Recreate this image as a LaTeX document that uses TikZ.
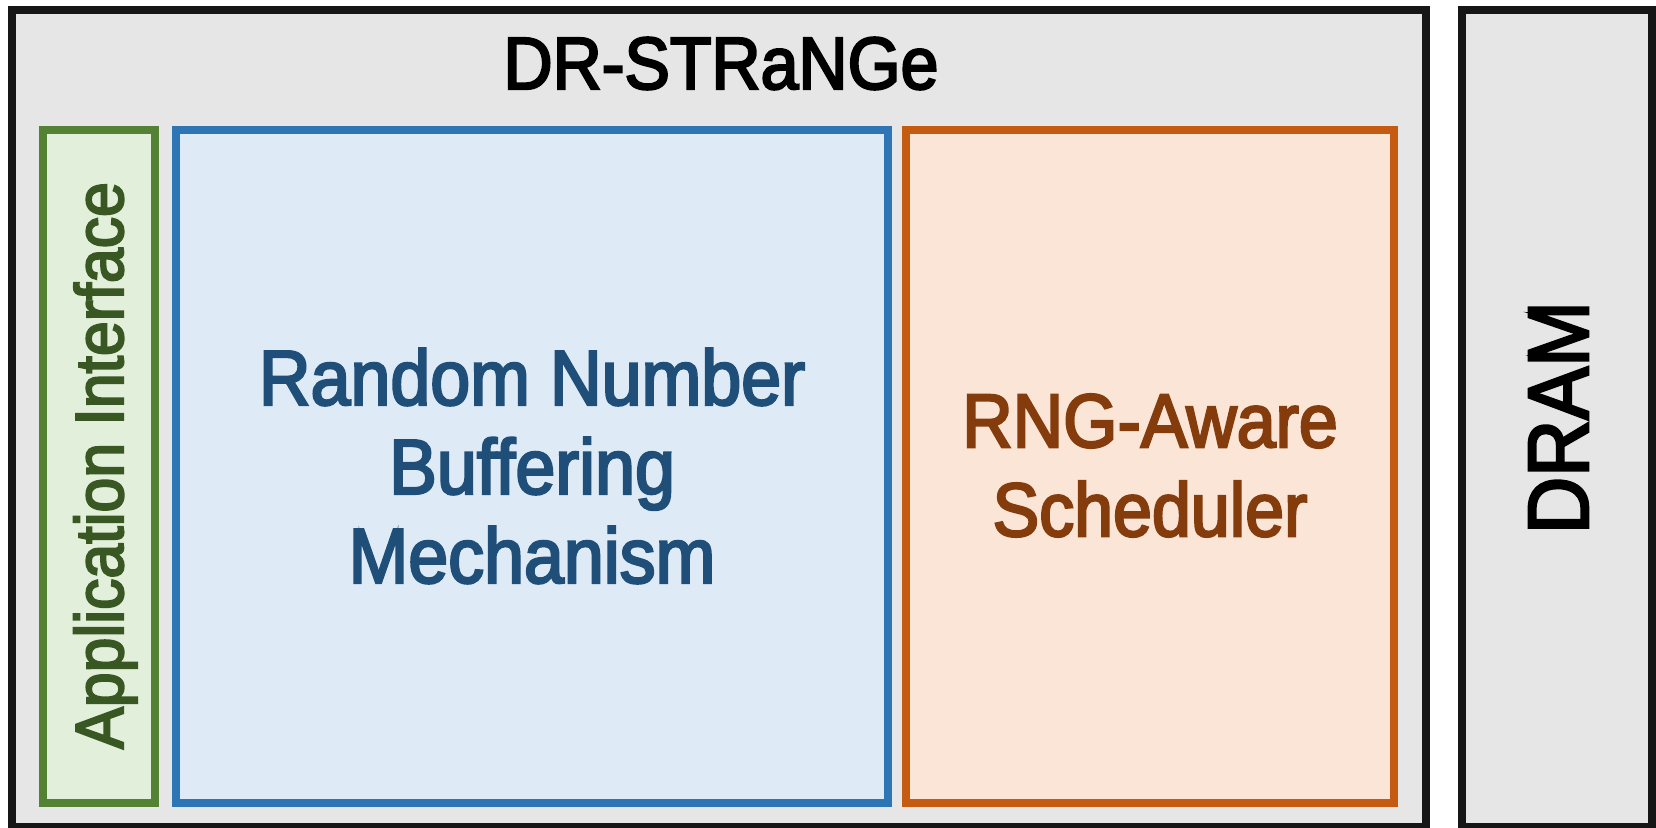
\documentclass[tikz,border=0pt]{standalone}
\usepackage{fontspec}
\setmainfont{Liberation Sans}[FakeStretch=0.92,FakeBold=3]
\definecolor{blockgray}{HTML}{E6E6E6}
\definecolor{blockline}{HTML}{161616}
\definecolor{ifline}{HTML}{548235}
\definecolor{iffill}{HTML}{E2EFDA}
\definecolor{iftext}{HTML}{385723}
\definecolor{bufline}{HTML}{2E75B6}
\definecolor{buffill}{HTML}{DEEBF7}
\definecolor{buftext}{HTML}{1F4E79}
\definecolor{schline}{HTML}{C55A11}
\definecolor{schfill}{HTML}{FBE5D6}
\definecolor{schtext}{HTML}{843C0C}

\begin{document}
\begin{tikzpicture}[x=0.5pt,y=-0.5pt,line width=4pt,
    lbl/.style={inner sep=0pt,align=center,font=\fontsize{39pt}{44.5pt}\selectfont}]
      \useasboundingbox (0,0) rectangle (1656,828);
      \draw [blockline,fill=blockgray] (12,10) rectangle (1426,827);
      \draw [blockline,fill=blockgray] (1462,10) rectangle (1652,827);
      \draw [ifline,fill=iffill] (43,130) rectangle (155,803);
      \draw [bufline,fill=buffill] (176,130) rectangle (888,803);
      \draw [schline,fill=schfill] (906,130) rectangle (1394,803);
      \node [lbl,font=\fontsize{37pt}{44.5pt}\selectfont] (title) at (721,63.5) {DR-STRaNGe};
      \node [lbl,text=iftext,rotate=90,anchor=base,font=\fontsize{34pt}{40pt}\selectfont] (appif) at (123,465.5) {Application Interface};
      \node [lbl,text=buftext] (rnbuf) at (532,466) {Random Number\\Buffering\\Mechanism};
      \node [lbl,text=schtext,font=\fontsize{38pt}{44.5pt}\selectfont] (sched) at (1150,465.5) {RNG-Aware\\Scheduler};
      \node [lbl,rotate=90,anchor=base,font=\fontsize{43pt}{50pt}\selectfont] (dram) at (1588,417.5) {DRAM};
      \end{tikzpicture}
\end{document}
